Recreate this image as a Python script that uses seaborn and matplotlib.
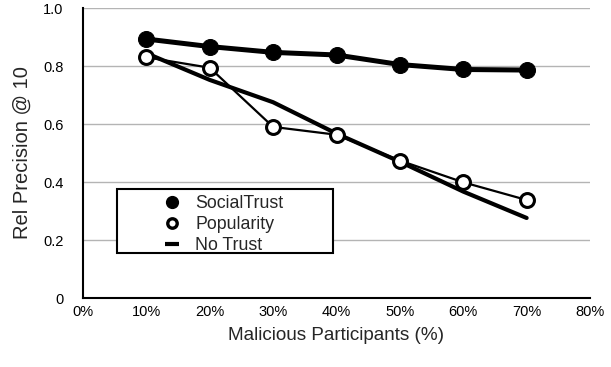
import matplotlib
matplotlib.use("Agg")
import matplotlib.pyplot as plt
from matplotlib.lines import Line2D
from matplotlib.patches import Rectangle
import seaborn as sns
import pandas as pd

x_pct = [10, 20, 30, 40, 50, 60, 70]
social_trust = [0.893, 0.867, 0.847, 0.838, 0.805, 0.788, 0.786]
popularity = [0.830, 0.794, 0.590, 0.563, 0.474, 0.399, 0.338]
no_trust = [0.844, 0.752, 0.675, 0.567, 0.470, 0.367, 0.276]
x_ticks = [0, 10, 20, 30, 40, 50, 60, 70, 80]
y_ticks = [0, 0.2, 0.4, 0.6, 0.8, 1.0]
y_labels = ["0", "0.2", "0.4", "0.6", "0.8", "1.0"]

df = pd.DataFrame({"x": x_pct, "SocialTrust": social_trust,
                   "Popularity": popularity, "No Trust": no_trust})

sns.set_style("white")
plt.rcParams["font.family"] = ["Liberation Sans", "DejaVu Sans"]

W, H = 611, 367
fig = plt.figure(figsize=(W / 100, H / 100), dpi=100)
ax = fig.add_axes([83 / W, 1 - 298 / H, (590 - 83) / W, (298 - 8) / H])

sns.lineplot(data=df, x="x", y="No Trust", ax=ax, color="black", lw=3.0,
             zorder=3)
sns.lineplot(data=df, x="x", y="Popularity", ax=ax, color="black", lw=1.6,
             marker="o", markersize=10, markerfacecolor="white",
             markeredgecolor="black", markeredgewidth=2.2, zorder=4)
sns.lineplot(data=df, x="x", y="SocialTrust", ax=ax, color="black", lw=3.6,
             marker="o", markersize=11.5, markerfacecolor="black",
             markeredgecolor="black", zorder=5)

ax.set_xlim(0, 80)
ax.set_ylim(0, 1.0)
ax.set_xticks(x_ticks)
ax.set_xticklabels([f"{v}%" for v in x_ticks])
ax.set_yticks(y_ticks)
ax.set_yticklabels(y_labels)
ax.tick_params(axis="both", length=0, labelsize=10.5, colors="black")
ax.tick_params(axis="x", pad=5)
ax.tick_params(axis="y", pad=14)
ax.yaxis.grid(True, color="#b4b4b4", lw=1.0)
ax.xaxis.grid(False)
for s in ["top", "right"]:
    ax.spines[s].set_visible(False)
for s in ["left", "bottom"]:
    ax.spines[s].set_color("black")
    ax.spines[s].set_linewidth(1.5)

ax.set_xlabel("Malicious Participants (%)", fontsize=13.6, labelpad=6)
ax.set_ylabel("Rel Precision @ 10", fontsize=14.5, labelpad=8)

# legend frame
fig.patches.append(Rectangle((117 / W, 1 - 253 / H), 216 / W, 64 / H,
                             transform=fig.transFigure, facecolor="white",
                             edgecolor="black", lw=1.5, zorder=6))

handles = [
    Line2D([], [], ls="none", marker="o", markersize=8.5, color="black"),
    Line2D([], [], ls="none", marker="o", markersize=6.8, markerfacecolor="white",
           markeredgecolor="black", markeredgewidth=2.4),
    Line2D([], [], ls="none", marker="_", markersize=10, markeredgewidth=3,
           color="black"),
]
leg = fig.legend(handles, ["SocialTrust", "Popularity", "No Trust"],
                 loc="upper left", bbox_to_anchor=(163.3 / W, 1 - 195 / H),
                 bbox_transform=fig.transFigure,
                 fontsize=12.8, frameon=False,
                 handlelength=1.0, handletextpad=0.8, borderpad=0,
                 labelspacing=0.22, borderaxespad=0)
leg.set_zorder(7)

fig.savefig("out.png", dpi=100, facecolor="white")
